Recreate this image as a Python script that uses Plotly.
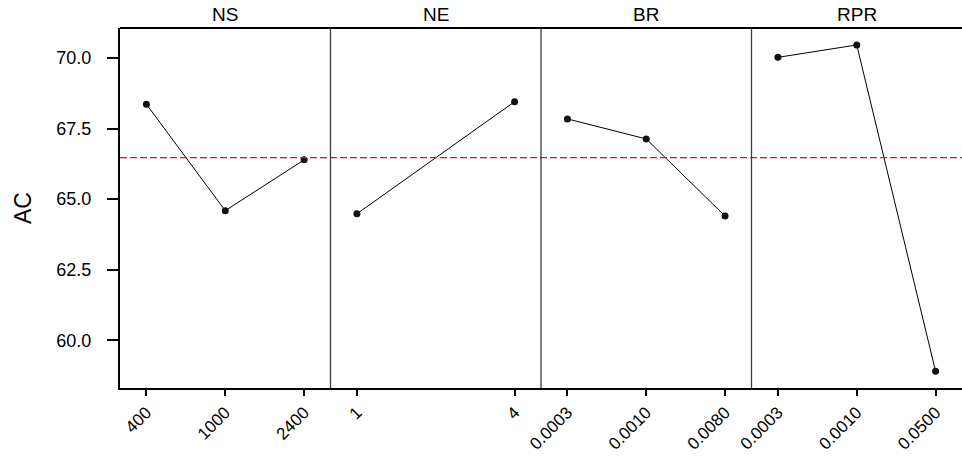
import plotly.graph_objects as go

# Main-effects means of AC for each factor level
factors = ["NS", "NE", "BR", "RPR"]
ns_levels = ["400", "1000", "2400"]
ns_ac = [68.36, 64.59, 66.39]
ne_levels = [1, 4]
ne_ac = [64.48, 68.45]
br_levels = ["0.0003", "0.0010", "0.0080"]
br_ac = [67.84, 67.13, 64.40]
rpr_levels = ["0.0003", "0.0010", "0.0500"]
rpr_ac = [70.02, 70.46, 58.90]
mean_ac = 66.47
y_ticks = [60.0, 62.5, 65.0, 67.5, 70.0]

panels = [
    (ns_levels, ns_ac),
    (ne_levels, ne_ac),
    (br_levels, br_ac),
    (rpr_levels, rpr_ac),
]

FONT = "Liberation Sans, Arial, sans-serif"
fig = go.Figure()
layout = {}

for i, (levels, values) in enumerate(panels):
    xa = "x" if i == 0 else f"x{i + 1}"
    fig.add_trace(go.Scatter(
        x=levels, y=values, xaxis=xa, yaxis="y",
        mode="lines+markers",
        line=dict(color="black", width=1),
        marker=dict(size=7, color="#111111", symbol="circle"),
        showlegend=False, hoverinfo="x+y",
    ))
    ax = dict(
        domain=[i / 4, (i + 1) / 4], anchor="y",
        showline=True, linecolor="black", linewidth=2,
        ticks="outside", ticklen=6, tickwidth=1.5, tickcolor="black",
        tickangle=-45, tickfont=dict(family=FONT, size=17, color="black"),
        showgrid=False, zeroline=False, fixedrange=True,
    )
    if isinstance(levels[0], str):
        ax.update(type="category", range=[-0.335, len(levels) - 1 + 0.335])
    else:
        span = levels[-1] - levels[0]
        pad = span * 0.1675
        ax.update(type="linear", range=[levels[0] - pad, levels[-1] + pad],
                  tickvals=levels, ticktext=[str(v) for v in levels])
    layout["xaxis" if i == 0 else f"xaxis{i + 1}"] = ax

layout["yaxis"] = dict(
    range=[58.31, 71.06], tickvals=y_ticks,
    ticktext=[f"{v:.1f}" for v in y_ticks],
    showline=True, linecolor="black", linewidth=2,
    ticks="outside", ticklen=11, tickwidth=1.5, tickcolor="black",
    ticklabelstandoff=12,
    tickfont=dict(family=FONT, size=18, color="black"),
    showgrid=False, zeroline=False, fixedrange=True,
)

shapes = [
    # overall mean reference line
    dict(type="line", xref="paper", x0=0, x1=1, yref="y", y0=mean_ac, y1=mean_ac,
         line=dict(color="#d81b1b", width=1.2, dash="7px,3px")),
    # top border
    dict(type="line", xref="paper", x0=0, x1=1, yref="paper", y0=1, y1=1,
         line=dict(color="black", width=2)),
]
for k in range(1, 4):
    shapes.append(dict(type="line", xref="paper", x0=k / 4, x1=k / 4,
                       yref="paper", y0=0, y1=1,
                       line=dict(color="#3c3c3c", width=1.3)))

annotations = []
for i, name in enumerate(factors):
    annotations.append(dict(
        text=name, xref="paper", yref="paper", x=(i + 0.5) / 4, y=1,
        xanchor="center", yanchor="bottom", yshift=1, showarrow=False,
        font=dict(family=FONT, size=19, color="black"),
    ))
annotations.append(dict(
    text="AC", xref="paper", yref="paper", x=0, y=0.5, xshift=-97,
    xanchor="center", yanchor="middle", textangle=-90, showarrow=False,
    font=dict(family=FONT, size=23, color="black"),
))

fig.update_layout(
    **layout,
    shapes=shapes,
    annotations=annotations,
    width=962, height=456,
    margin=dict(l=120, r=0, t=28, b=68),
    paper_bgcolor="white", plot_bgcolor="white",
    font=dict(family=FONT, color="black"),
)

fig.write_html("out.html", config={"displayModeBar": False})
